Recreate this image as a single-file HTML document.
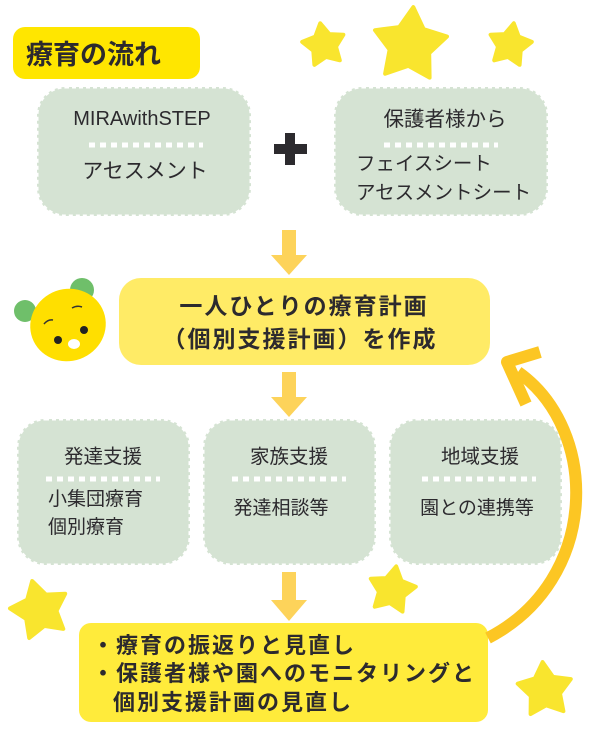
<!DOCTYPE html>
<html><head><meta charset="utf-8"><style>
body{margin:0;background:#fff;}
svg{display:block}
text{font-family:"Liberation Sans","Noto Sans CJK JP",sans-serif;fill:#2c2a2e;}
</style></head><body>
<svg id="s" width="600" height="750" viewBox="0 0 600 750" xmlns="http://www.w3.org/2000/svg">
<g id="stars" fill="#f9e52e"></g>
<rect x="13" y="27" width="187" height="52" rx="12" fill="#ffe600"/>
<text x="26" y="64" font-size="27" font-weight="bold">療育の流れ</text>
<g fill="#d5e3d3" stroke="#ffffff" stroke-width="3" stroke-dasharray="4 3">
<rect x="37" y="87" width="214" height="129" rx="28"/>
<rect x="334" y="87" width="214" height="129" rx="28"/>
<rect x="17" y="419" width="173" height="146" rx="28"/>
<rect x="203" y="419" width="173" height="146" rx="28"/>
<rect x="389" y="419" width="173" height="146" rx="28"/>
</g>
<g stroke="#ffffff" stroke-width="5" stroke-dasharray="6 5">
<line x1="89" y1="145" x2="203" y2="145"/>
<line x1="384" y1="145" x2="498" y2="145"/>
<line x1="46" y1="479" x2="160" y2="479"/>
<line x1="232" y1="479" x2="346" y2="479"/>
<line x1="422" y1="479" x2="536" y2="479"/>
</g>
<text x="142" y="125" font-size="20" text-anchor="middle">MIRAwithSTEP</text>
<text x="145" y="178" font-size="21" text-anchor="middle">アセスメント</text>
<text x="445" y="126" font-size="20.5" text-anchor="middle">保護者様から</text>
<text x="356" y="170" font-size="19.5">フェイスシート</text>
<text x="356" y="199" font-size="19.5">アセスメントシート</text>
<rect x="274" y="144" width="33" height="10" fill="#2c2a2e"/>
<rect x="285" y="133" width="10" height="32" fill="#2c2a2e"/>
<g fill="#fdd35a">
<path d="M282 230h14v25h11l-18 20l-18-20h11z"/>
<path d="M282 372h14v25h11l-18 20l-18-20h11z"/>
<path d="M282 572h14v28h11l-18 21l-18-21h11z"/>
</g>
<rect x="119" y="278" width="371" height="87" rx="22" fill="#ffeb66"/>
<text x="304" y="314" font-size="23" font-weight="bold" text-anchor="middle" letter-spacing="2">一人ひとりの療育計画</text>
<text x="300" y="347" font-size="23" font-weight="bold" text-anchor="middle" letter-spacing="2">（個別支援計画）を作成</text>
<text x="103" y="463" font-size="19.5" text-anchor="middle">発達支援</text>
<text x="48" y="505" font-size="19">小集団療育</text>
<text x="48" y="533" font-size="19">個別療育</text>
<text x="289" y="463" font-size="19.5" text-anchor="middle">家族支援</text>
<text x="281" y="514" font-size="19" text-anchor="middle">発達相談等</text>
<text x="480" y="463" font-size="19.5" text-anchor="middle">地域支援</text>
<text x="477" y="514" font-size="19" text-anchor="middle">園との連携等</text>
<rect x="79" y="623" width="409" height="99" rx="12" fill="#ffeb3b"/>
<text x="92" y="653" font-size="22" font-weight="bold" letter-spacing="2">・療育の振返りと見直し</text>
<text x="92" y="681" font-size="22" font-weight="bold" letter-spacing="2">・保護者様や園へのモニタリングと</text>
<text x="113" y="710" font-size="22" font-weight="bold" letter-spacing="2">個別支援計画の見直し</text>
<path d="M488 638 C 600 580, 600 430, 518 372" fill="none" stroke="#fcc623" stroke-width="12"/>
<path d="M540 352 L 507 362 L 526 404" fill="none" stroke="#fcc623" stroke-width="12" stroke-linejoin="round"/>
<circle cx="82" cy="290" r="12" fill="#6fbf6a"/>
<circle cx="25" cy="311" r="11" fill="#6fbf6a"/>
<ellipse cx="68" cy="325" rx="38" ry="36" fill="#ffdf00" transform="rotate(-20 68 325)"/>
<circle cx="58" cy="340" r="4" fill="#222"/>
<circle cx="84" cy="330" r="4" fill="#222"/>
<ellipse cx="74" cy="344" rx="6" ry="5" fill="#fff"/>
<path d="M44 324q4-5 9-4M72 308q5-3 10-1" stroke="#333" stroke-width="1.5" fill="none"/>
</svg>
<script>
function star(cx,cy,r,rot){var p=[];for(var i=0;i<10;i++){var a=(i*36+rot-90)*Math.PI/180;var rr=i%2?r*0.55:r;p.push((cx+rr*Math.cos(a)).toFixed(1)+","+(cy+rr*Math.sin(a)).toFixed(1));}
var e=document.createElementNS("http://www.w3.org/2000/svg","polygon");e.setAttribute("points",p.join(" "));e.setAttribute("stroke","#f9e52e");e.setAttribute("stroke-width","4");e.setAttribute("stroke-linejoin","round");document.getElementById("stars").appendChild(e);}
star(324,45,22,-10);star(410,45,38,5);star(510,45,22,10);star(40,610,30,-15);star(392,590,24,10);star(545,690,28,-5);
</script>
</body></html>
